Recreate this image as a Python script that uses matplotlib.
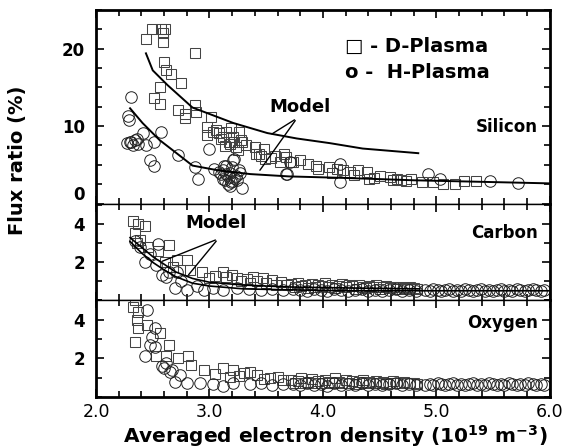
import numpy as np
import matplotlib
matplotlib.use('Agg')
import matplotlib.pyplot as plt
from matplotlib.ticker import MultipleLocator

# DejaVu is wide enough to match the stretched lettering of the original
plt.rcParams['font.family'] = ['DejaVu Sans']
plt.rcParams['mathtext.fontset'] = 'dejavusans'
plt.rcParams['mathtext.default'] = 'bf'

###---Silicon, D-plasma (squares)---
si_d_x = [2.44, 2.49, 2.57, 2.59, 2.59, 2.61, 2.875, 2.60, 2.62, 2.66, 2.75, 2.56, 2.51, 2.56,
          2.72, 2.78, 2.78, 2.875, 2.88, 3.01, 2.98, 3.06, 2.98, 3.19, 3.26, 3.12, 3.17, 3.23,
          3.29, 3.32, 3.40, 3.41, 3.48, 3.45, 3.54, 3.66, 3.62, 3.72, 3.03, 3.08, 3.15, 3.21,
          3.28, 3.18, 3.44, 3.49, 3.58, 3.67, 3.74, 3.80, 3.87, 3.94, 4.05, 4.12, 4.18, 4.24,
          4.31, 4.39, 4.41, 4.50, 4.59, 4.65, 4.69, 4.78, 4.87, 4.97, 5.06, 5.16, 5.24, 5.35,
          3.10, 3.14, 3.22, 3.25, 3.96, 4.08, 4.27, 4.45, 4.62, 4.73]
si_d_y = [21.3, 22.6, 22.5, 22.0, 20.9, 22.5, 19.5, 18.3, 17.3, 16.7, 15.6, 15.1, 13.6, 12.9,
          12.1, 11.6, 11.0, 12.7, 11.8, 11.2, 9.9, 9.5, 8.8, 9.7, 9.2, 8.6, 7.9, 7.3,
          7.9, 7.5, 7.3, 6.4, 7.1, 6.1, 5.9, 6.4, 5.4, 5.4, 9.2, 9.1, 9.2, 8.6,
          8.2, 7.7, 6.4, 5.8, 6.2, 6.0, 5.4, 5.6, 5.1, 4.9, 4.7, 4.5, 4.3, 4.1,
          4.3, 4.1, 3.2, 3.6, 3.4, 3.2, 3.0, 3.2, 2.8, 2.8, 2.5, 2.5, 2.9, 2.9,
          8.3, 7.4, 8.0, 6.9, 4.4, 3.9, 3.7, 3.3, 3.0, 2.9]

###---Silicon, H-plasma (circles)---
si_h_x = [2.31, 2.28, 2.29, 2.41, 2.57, 2.31, 2.34, 2.37, 2.44, 2.51, 2.48, 2.51, 2.72, 2.87,
          2.90, 3.00, 3.04, 3.12, 3.15, 3.17, 3.20, 3.22, 3.23, 3.16, 3.29, 3.12, 3.26, 3.10,
          3.67, 3.68, 3.71, 4.15, 4.15, 4.93, 5.03, 5.47, 5.72, 3.21, 3.14, 3.18, 3.24, 3.19,
          3.13, 2.33, 2.30, 3.08, 3.18, 3.22, 3.27, 3.15, 3.20, 2.27, 2.36]
si_h_y = [13.7, 11.3, 10.8, 9.1, 9.2, 7.9, 8.2, 7.7, 7.5, 7.9, 5.6, 4.9, 6.3, 4.7,
          3.2, 7.1, 4.4, 4.3, 3.8, 3.4, 4.7, 5.8, 3.6, 2.5, 2.0, 3.2, 4.3, 3.8,
          3.8, 3.8, 5.4, 5.1, 2.8, 3.8, 3.2, 2.9, 2.6, 5.6, 3.0, 4.0, 3.0, 2.8,
          4.8, 7.6, 8.0, 4.1, 2.2, 3.3, 3.9, 4.9, 2.9, 7.8, 8.3]

###---Silicon model curves---
si_mod_d_x = [2.44, 2.50, 2.63, 2.85, 3.03, 3.21, 3.51, 3.77, 4.06, 4.35, 4.84]
si_mod_d_y = [19.4, 17.2, 15.3, 12.4, 11.4, 10.4, 9.1, 8.4, 7.8, 7.1, 6.5]
si_mod_h_x = [2.30, 2.41, 2.56, 2.71, 2.85, 3.07, 3.36, 3.70, 4.20, 4.80, 5.40, 6.00]
si_mod_h_y = [12.3, 10.4, 8.2, 6.5, 4.9, 4.3, 3.8, 3.5, 3.3, 3.0, 2.8, 2.6]

###---Carbon---
c_d_x = [2.33, 2.37, 2.43, 2.34, 2.39, 2.36, 2.46, 2.64, 2.55, 2.71, 2.80, 2.61, 2.68, 2.83,
         2.93, 3.00, 3.12, 3.15, 3.24, 3.33, 3.42, 3.50, 3.59, 3.68, 3.05, 3.20, 3.28, 3.38,
         3.47, 3.55, 3.63, 3.36,
         3.72, 3.75, 3.78, 3.81, 3.84, 3.87, 3.90, 3.93, 3.96, 3.99, 4.02, 4.05, 4.08, 4.11,
         4.14, 4.17, 4.20, 4.23, 4.26, 4.29, 4.32, 4.35, 4.38, 4.41, 4.44, 4.47, 4.50, 4.53,
         4.56, 4.59, 4.62, 4.65, 4.68, 4.71, 4.74, 4.77, 4.80, 4.83]
c_d_y = [4.2, 4.0, 3.9, 3.55, 3.2, 3.0, 2.8, 2.9, 2.6, 2.1, 2.1, 2.0, 1.75, 1.6,
         1.5, 1.15, 1.5, 1.25, 1.15, 1.1, 1.0, 0.9, 0.8, 0.8, 1.3, 1.35, 1.0, 1.2,
         1.15, 1.05, 0.95, 0.9,
         0.85, 0.7, 0.9, 0.75, 0.8, 0.65, 0.85, 0.7, 0.8, 0.75, 0.9, 0.7, 0.8, 0.65,
         0.75, 0.85, 0.7, 0.8, 0.75, 0.6, 0.8, 0.7, 0.65, 0.75, 0.7, 0.8, 0.6, 0.7,
         0.75, 0.65, 0.7, 0.6, 0.7, 0.65, 0.6, 0.7, 0.65, 0.6]
c_h_x = [2.34, 2.39, 2.43, 2.48, 2.55, 2.53, 2.58, 2.64, 2.71, 2.70, 2.80, 2.89, 2.95, 3.03,
         3.12, 3.24, 2.62, 2.75, 3.35, 3.45, 3.55, 3.65,
         3.74, 3.80, 3.86, 3.92, 3.98, 4.04, 4.10, 4.16, 4.22, 4.28, 4.34, 4.40, 4.46, 4.52,
         4.58, 4.64, 4.70, 4.76, 4.82,
         4.90, 4.94, 4.97, 5.01, 5.04, 5.08, 5.11, 5.15, 5.18, 5.22, 5.25, 5.29, 5.32, 5.36,
         5.39, 5.43, 5.46, 5.50, 5.53, 5.57, 5.60, 5.64, 5.67, 5.71, 5.74, 5.78, 5.81, 5.85,
         5.88, 5.92, 5.95]
c_h_y = [3.1, 2.8, 2.0, 2.45, 2.95, 1.85, 1.35, 1.5, 1.5, 0.65, 0.55, 0.75, 0.55, 0.65,
         0.55, 0.65, 1.2, 1.0, 0.6, 0.55, 0.6, 0.55,
         0.6, 0.55, 0.5, 0.6, 0.55, 0.5, 0.6, 0.55, 0.5, 0.55, 0.6, 0.5, 0.55, 0.5,
         0.55, 0.6, 0.5, 0.55, 0.5,
         0.55, 0.5, 0.6, 0.55, 0.5, 0.55, 0.6, 0.5, 0.55, 0.5, 0.6, 0.55, 0.5, 0.55,
         0.6, 0.5, 0.55, 0.5, 0.55, 0.6, 0.5, 0.55, 0.5, 0.6, 0.55, 0.5, 0.55, 0.6,
         0.55, 0.5, 0.55]
c_mod_d_x = [2.30, 2.40, 2.50, 2.60, 2.70, 2.85, 3.00, 3.30, 3.70, 4.20, 4.85]
c_mod_d_y = [3.3, 2.8, 2.3, 1.9, 1.5, 1.15, 0.95, 0.8, 0.7, 0.65, 0.6]
c_mod_h_x = [2.30, 2.40, 2.50, 2.60, 2.70, 2.85, 3.00, 3.30, 3.70, 4.20, 5.00, 6.00]
c_mod_h_y = [3.1, 2.5, 2.0, 1.6, 1.25, 0.9, 0.75, 0.6, 0.55, 0.5, 0.5, 0.5]

###---Oxygen---
o_d_x = [2.34, 2.33, 2.37, 2.36, 2.37, 2.45, 2.34, 2.56, 2.64, 2.53, 2.62, 2.72, 2.81, 2.84,
         2.95, 3.12, 3.21, 3.30, 3.42, 3.18, 3.53, 3.65, 3.05, 3.26, 3.36, 3.48, 3.60,
         3.72, 3.75, 3.78, 3.81, 3.84, 3.87, 3.90, 3.93, 3.96, 3.99, 4.02, 4.05, 4.08, 4.11,
         4.14, 4.17, 4.20, 4.23, 4.26, 4.29, 4.32, 4.35, 4.38, 4.41, 4.44, 4.47, 4.50, 4.53,
         4.56, 4.59, 4.62, 4.65, 4.68, 4.71, 4.74, 4.77, 4.80, 4.83]
o_d_y = [5.0, 4.65, 4.4, 4.0, 3.55, 3.7, 2.85, 3.3, 2.7, 2.1, 2.1, 2.0, 2.1, 1.65,
         1.4, 1.5, 1.4, 1.25, 1.15, 1.05, 1.0, 0.9, 1.2, 1.1, 1.3, 0.95, 1.05,
         0.9, 0.7, 0.85, 1.0, 0.75, 0.8, 0.95, 0.7, 0.85, 0.75, 0.9, 0.8, 0.7, 1.0,
         0.8, 0.7, 0.9, 0.75, 0.85, 0.65, 0.8, 0.9, 0.7, 0.8, 0.75, 0.85, 0.7, 0.8,
         0.65, 0.75, 0.85, 0.7, 0.75, 0.8, 0.7, 0.75, 0.7, 0.65]
o_h_x = [2.45, 2.52, 2.49, 2.48, 2.52, 2.43, 2.58, 2.62, 2.67, 2.70, 2.74, 2.80, 2.92, 3.03,
         3.12, 3.21, 3.36, 2.60, 2.65, 3.45, 3.55, 3.65,
         3.74, 3.80, 3.86, 3.92, 3.98, 4.04, 4.10, 4.16, 4.22, 4.28, 4.34, 4.40, 4.46, 4.52,
         4.58, 4.64, 4.70, 4.76, 4.82,
         4.90, 4.94, 4.97, 5.01, 5.04, 5.08, 5.11, 5.15, 5.18, 5.22, 5.25, 5.29, 5.32, 5.36,
         5.39, 5.43, 5.46, 5.50, 5.53, 5.57, 5.60, 5.64, 5.67, 5.71, 5.74, 5.78, 5.81, 5.85,
         5.88, 5.92, 5.95]
o_h_y = [4.5, 3.55, 3.1, 2.7, 2.6, 2.1, 1.6, 1.75, 1.4, 0.8, 1.15, 0.75, 0.75, 0.65,
         0.55, 0.75, 0.65, 1.5, 1.3, 0.7, 0.6, 0.65,
         0.65, 0.6, 0.7, 0.6, 0.65, 0.55, 0.7, 0.6, 0.65, 0.6, 0.7, 0.6, 0.65, 0.6,
         0.65, 0.7, 0.6, 0.65, 0.6,
         0.6, 0.65, 0.6, 0.7, 0.65, 0.6, 0.65, 0.7, 0.6, 0.65, 0.6, 0.65, 0.7, 0.6,
         0.65, 0.6, 0.7, 0.65, 0.6, 0.65, 0.6, 0.7, 0.65, 0.6, 0.65, 0.6, 0.7, 0.65,
         0.6, 0.65, 0.6]

x_ticks = [2.0, 3.0, 4.0, 5.0, 6.0]
x_ticklabels = ['2.0', '3.0', '4.0', '5.0', '6.0']

#------------------------------------------------------------
fig, axes = plt.subplots(3, 1, figsize=(5.77, 4.48), dpi=100, sharex=True,
                         gridspec_kw={'height_ratios': [2, 1, 1], 'hspace': 0})
fig.subplots_adjust(left=0.1664, right=0.953, top=0.9777, bottom=0.1138)

sq = dict(ls='none', marker='s', ms=7.0, mfc='none', mec='#444444', mew=0.75)
ci = dict(ls='none', marker='o', ms=8.3, mfc='none', mec='#222222', mew=0.7)

ax1, ax2, ax3 = axes
ax1.plot(si_d_x, si_d_y, **sq)
ax1.plot(si_h_x, si_h_y, **ci)
ax1.plot(si_mod_d_x, si_mod_d_y, color='black', lw=1.4)
ax1.plot(si_mod_h_x, si_mod_h_y, color='black', lw=1.4)

ax2.plot(c_d_x, c_d_y, **sq)
ax2.plot(c_h_x, c_h_y, **ci)
ax2.plot(c_mod_d_x, c_mod_d_y, color='black', lw=1.2)
ax2.plot(c_mod_h_x, c_mod_h_y, color='black', lw=1.2)

ax3.plot(o_d_x, o_d_y, **sq)
ax3.plot(o_h_x, o_h_y, **ci)

###---axes styling---
ax1.set_ylim(0, 25)
ax1.set_yticks([0, 10, 20])
ax1.yaxis.set_minor_locator(MultipleLocator(2.5))
ax2.set_ylim(0, 5.1)
ax2.set_yticks([2, 4])
ax2.yaxis.set_minor_locator(MultipleLocator(1))
ax3.set_ylim(0, 5.0)
ax3.set_yticks([2, 4])
ax3.yaxis.set_minor_locator(MultipleLocator(1))

for ax in axes:
    ax.set_xlim(2.0, 6.0)
    ax.xaxis.set_minor_locator(MultipleLocator(0.2))
    ax.tick_params(which='both', direction='in', top=True, right=True, width=1.2)
    ax.tick_params(which='major', length=6)
    ax.tick_params(which='minor', length=4)
    ax.tick_params(axis='y', labelsize=12, pad=8)
    for lab in ax.get_yticklabels():
        lab.set_fontweight('bold')
    for s in ['left', 'right', 'top', 'bottom']:
        ax.spines[s].set_linewidth(2.0)
ax1.spines['bottom'].set_linewidth(1.0)
ax2.spines['top'].set_linewidth(1.0)
ax2.spines['bottom'].set_linewidth(1.0)
ax3.spines['top'].set_linewidth(1.0)

# raise the "0" a bit like the original
ax1.get_yticklabels()[0].set_va('bottom')

ax3.set_xticks(x_ticks)
ax3.set_xticklabels(x_ticklabels, fontsize=12.5)
ax3.tick_params(axis='x', pad=4)

fig.text(335 / 577, 1 - 443 / 448, r'Averaged electron density (10$^{19}$ m$^{-3}$)',
         fontsize=14.5, fontweight='bold', ha='center', va='baseline')
fig.text(18 / 577, 1 - 160 / 448, 'Flux ratio (%)', rotation=90, fontsize=14,
         fontweight='bold', ha='center', va='center')

###---labels and legend text---
ax1.text(0.548, 0.813, '□ - D-Plasma', transform=ax1.transAxes, fontsize=14,
         fontweight='bold', va='center', ha='left')
ax1.text(0.548, 0.679, 'o -  H-Plasma', transform=ax1.transAxes, fontsize=14,
         fontweight='bold', va='center', ha='left')
ax1.text(0.974, 0.394, 'Silicon', transform=ax1.transAxes, fontsize=12,
         fontweight='bold', va='center', ha='right')
ax2.text(0.974, 0.69, 'Carbon', transform=ax2.transAxes, fontsize=12,
         fontweight='bold', va='center', ha='right')
ax3.text(0.974, 0.763, 'Oxygen', transform=ax3.transAxes, fontsize=12,
         fontweight='bold', va='center', ha='right')

ax1.text(0.383, 0.497, 'Model', transform=ax1.transAxes, fontsize=13,
         fontweight='bold', va='center', ha='left')
ax1.annotate('', xy=(3.53, 8.8), xytext=(3.77, 11.0),
             arrowprops=dict(arrowstyle='-', color='black', lw=1.0))
ax1.annotate('', xy=(3.43, 4.0), xytext=(3.77, 11.0),
             arrowprops=dict(arrowstyle='-', color='black', lw=1.0))

ax2.text(0.196, 0.794, 'Model', transform=ax2.transAxes, fontsize=13,
         fontweight='bold', va='center', ha='left')
ax2.annotate('', xy=(2.56, 2.0), xytext=(3.075, 3.23),
             arrowprops=dict(arrowstyle='-', color='black', lw=1.0))
ax2.annotate('', xy=(2.80, 1.23), xytext=(3.075, 3.23),
             arrowprops=dict(arrowstyle='-', color='black', lw=1.0))

plt.savefig('out.png', dpi=100)
